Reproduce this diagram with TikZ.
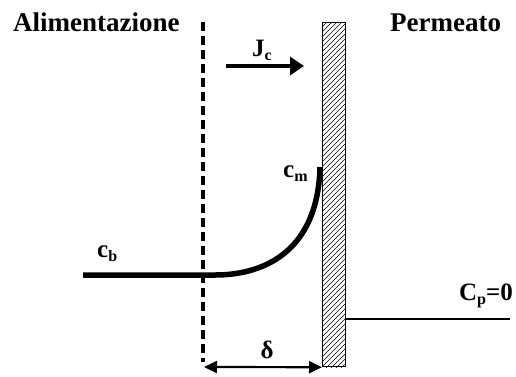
\documentclass[tikz,border=0pt]{standalone}
\usepackage{fontspec}
\setmainfont{Liberation Serif}
\usetikzlibrary{arrows.meta,positioning}
\newcommand{\lowsub}[1]{\raisebox{-4pt}{\fontsize{16}{16}\selectfont #1}}

\begin{document}
\begin{tikzpicture}[x=1pt,y=-1pt,
  every node/.style={font=\bfseries\fontsize{25}{28}\selectfont,inner sep=0pt},
  title/.style={font=\bfseries\fontsize{27}{30}\selectfont,anchor=base west},
  lbl/.style={anchor=base west},
  wall/.style={draw,line width=1.2pt,minimum width=23pt,minimum height=344pt,anchor=north west},
  boundary/.style={line width=3.2pt,dash pattern=on 9pt off 5pt},
  flux/.style={line width=4.5pt,-{Triangle[length=14pt,width=18pt]}},
  gap/.style={line width=2.2pt,{Triangle[length=13pt,width=12pt]}-{Triangle[length=13pt,width=12pt]}},
  profile/.style={line width=5.5pt},
  >=stealth]
\useasboundingbox (0,0) rectangle (516,376);
% titles
\node[title] (feed) at (13,31) {Alimentazione};
\node[title] (perm) at (390,31) {Permeato};
% membrane with hatching
\node[wall] (mem) at (322,22) {};
\begin{scope}
  \clip (mem.north west) rectangle (mem.south east);
  \foreach \k in {0,5,...,380}
    \draw[line width=0.6pt] (322,22+\k) -- (345,22+\k-23);
\end{scope}
\node[wall] at (322,22) {};
% boundary layer
\coordinate (dtop) at (203,22);
\coordinate (dbot) at (203,362);
\draw[boundary] (dtop) -- (dbot);
% flux
\coordinate (js) at (226,66);
\coordinate (je) at (304,66);
\draw[flux] (js) -- (je);
\node[anchor=base] (jc) at (262,56) {J\lowsub{c}};
% concentration profile
\coordinate (bulk) at (83,275);
\coordinate (knee) at (215,275);
\coordinate (wallc) at (320,167);
\draw[profile] (bulk) -- (knee) .. controls (268,275) and (318,248) .. (wallc);
\node[lbl] (cb) at (97,257) {c\lowsub{b}};
\node[lbl] (cm) at (283,177) {c\lowsub{m}};
% permeate side
\coordinate (cpend) at (510,319);
\draw[line width=1.5pt] (mem.east |- cpend) -- (cpend);
\node[anchor=base east] (cp) at (513,300) {C\lowsub{p}=0};
% thickness
\coordinate (dl) at (204,367);
\draw[gap] (dl) -- (mem.south west);
\node[anchor=base] (delta) at (267,358) {δ};
\end{tikzpicture}
\end{document}
